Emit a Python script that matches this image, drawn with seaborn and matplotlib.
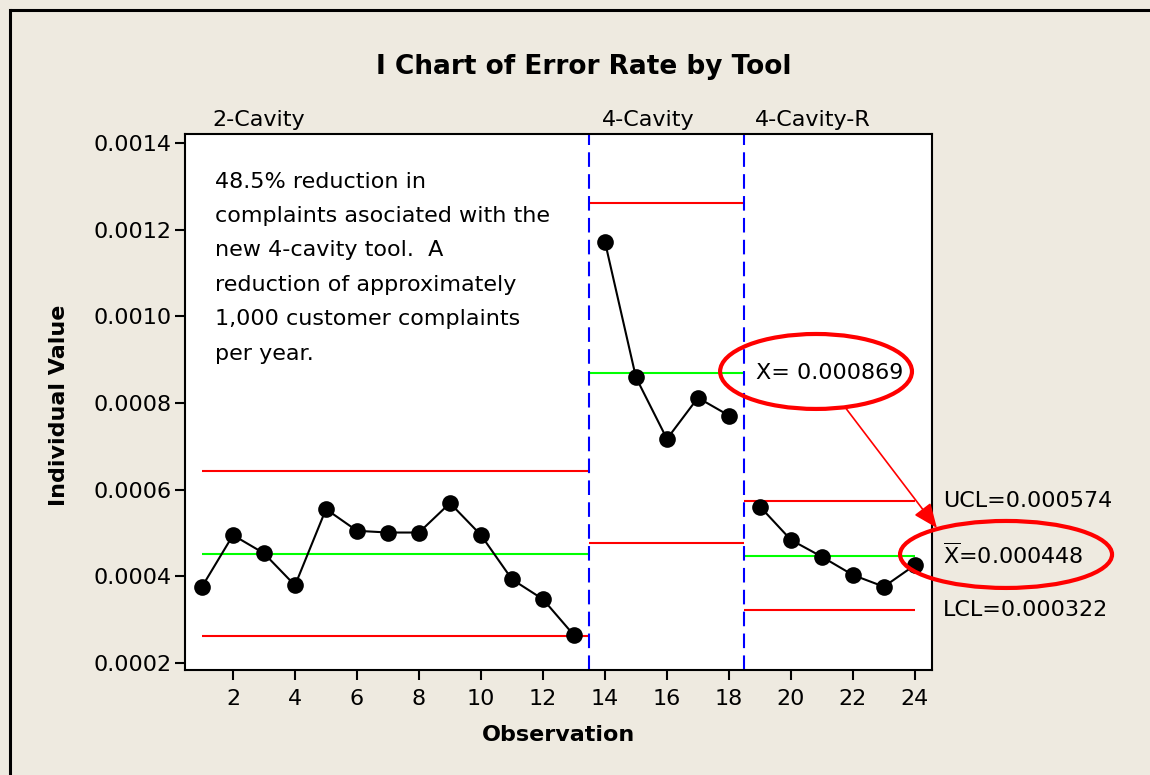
import numpy as np
import pandas as pd
import seaborn as sns
import matplotlib.pyplot as plt
from matplotlib.patches import Ellipse
from matplotlib.lines import Line2D
from matplotlib.ticker import FormatStrFormatter


# values
observation = list(range(1, 25))
error_rate = [0.000376, 0.000495, 0.000453, 0.000379, 0.000555, 0.000505,
              0.000501, 0.000501, 0.000569, 0.000495, 0.000393, 0.000347,
              0.000264,
              0.001172, 0.000859, 0.000717, 0.000812, 0.000771,
              0.000561, 0.000484, 0.000445, 0.000403, 0.000376, 0.000426]
stage = ["2-Cavity"] * 13 + ["4-Cavity"] * 5 + ["4-Cavity-R"] * 6

stage_names = ["2-Cavity", "4-Cavity", "4-Cavity-R"]
stage_start = [1, 13.5, 18.5]
stage_end = [13.5, 18.5, 24]
ucl = [0.000643, 0.001262, 0.000574]
center = [0.000452, 0.000869, 0.000448]
lcl = [0.000262, 0.000476, 0.000322]
stage_breaks = [13.5, 18.5]
label_x = [1.35, 13.9, 18.85]

note = ("48.5% reduction in\ncomplaints asociated with the\nnew 4-cavity tool.  A\n"
        "reduction of approximately\n1,000 customer complaints\nper year.")

bg = "#eeeae0"

sns.set_theme(style="ticks")
plt.rcParams["font.family"] = ["DejaVu Sans"]
plt.rcParams["mathtext.fontset"] = "dejavusans"
plt.rcParams["text.color"] = "black"
plt.rcParams["axes.labelcolor"] = "black"

data = pd.DataFrame({"Observation": observation, "Rate": error_rate, "Stage": stage})

fig = plt.figure(figsize=(11.5, 7.75), dpi=100, facecolor=bg)
ax = fig.add_axes([0.1609, 0.1355, 0.8104 - 0.1609, 0.8271 - 0.1355])
ax.set_facecolor("white")

# control limits per stage
ax.hlines(ucl, stage_start, stage_end, color="#ff0000", lw=1.5, zorder=2)
ax.hlines(lcl, stage_start, stage_end, color="#ff0000", lw=1.5, zorder=2)
ax.hlines(center, stage_start, stage_end, color="#00ff00", lw=1.5, zorder=2)

for b in stage_breaks:
    ax.axvline(b, color="#0000ff", lw=1.5, dashes=(7, 3.5), zorder=2)

sns.lineplot(data=data, x="Observation", y="Rate", hue="Stage",
             palette=["black"] * 3, estimator=None, marker="o", markersize=12,
             markeredgewidth=0, lw=1.5, legend=False, ax=ax, zorder=3)

ax.set_xlim(0.452, 24.55)
ax.set_ylim(0.0001838, 0.0014207)
ax.set_xticks(range(2, 25, 2))
ax.set_yticks([0.0002, 0.0004, 0.0006, 0.0008, 0.0010, 0.0012, 0.0014])
ax.yaxis.set_major_formatter(FormatStrFormatter("%.4f"))
ax.tick_params(axis="both", labelsize=16, length=7, width=1.5, color="black",
               labelcolor="black", direction="out", pad=3)
ax.tick_params(axis="x", pad=6.5)
for s in ax.spines.values():
    s.set_color("black")
    s.set_linewidth(1.5)
    s.set_visible(True)

ax.set_xlabel("Observation", fontsize=16, fontweight="bold", labelpad=12)
ax.set_ylabel("")
fig.text(0.0513, 0.4774, "Individual Value", rotation=90, fontsize=16,
         fontweight="bold", ha="center", va="center")
fig.text(0.508, 0.9135, "I Chart of Error Rate by Tool", fontsize=19,
         fontweight="bold", ha="center", va="center")

# stage labels above the plot
for name, x in zip(stage_names, label_x):
    ax.annotate(name, xy=(x, 1), xycoords=("data", "axes fraction"),
                xytext=(0, 3), textcoords="offset points",
                fontsize=16, ha="left", va="bottom")

# limits of the last stage at the right
right = [("UCL=0.000574", ucl[2]),
         (r"$\overline{\mathrm{X}}$=0.000448", center[2]),
         ("LCL=0.000322", lcl[2])]
for txt, y in right:
    ax.annotate(txt, xy=(1, y), xycoords=("axes fraction", "data"),
                xytext=(8, 0), textcoords="offset points",
                fontsize=16, ha="left", va="center")

ax.text(0.04, 0.93, note, transform=ax.transAxes, fontsize=16,
        ha="left", va="top", linespacing=1.9)

# callouts
ax.text(18.87, center[1], "X= 0.000869", fontsize=16, ha="left", va="center", zorder=5)
ax.add_patch(Ellipse((20.81, 0.0008727), 6.19, 0.000173, fill=False,
                     ec="#ff0000", lw=3, zorder=6, clip_on=False))
ax.add_patch(Ellipse((26.94, 0.0004504), 6.84, 0.0001546, fill=False,
                     ec="#ff0000", lw=3, zorder=6, clip_on=False))
ax.annotate("", xy=(24.71, 0.0005115), xytext=(21.74, 0.0007908),
            arrowprops=dict(arrowstyle="-|>,head_length=0.6,head_width=0.25",
                            color="#ff0000", lw=1.2, mutation_scale=25,
                            shrinkA=0, shrinkB=0),
            annotation_clip=False, zorder=6)

# outer frame (top and left edges)
fig.add_artist(Line2D([9.5 / 1150, 1], [1 - 10 / 775] * 2, transform=fig.transFigure,
                      color="black", lw=2.2, solid_capstyle="butt"))
fig.add_artist(Line2D([9.5 / 1150] * 2, [0, 1 - 10 / 775], transform=fig.transFigure,
                      color="black", lw=2.2, solid_capstyle="projecting"))

fig.savefig("out.png", dpi=100, facecolor=bg)
